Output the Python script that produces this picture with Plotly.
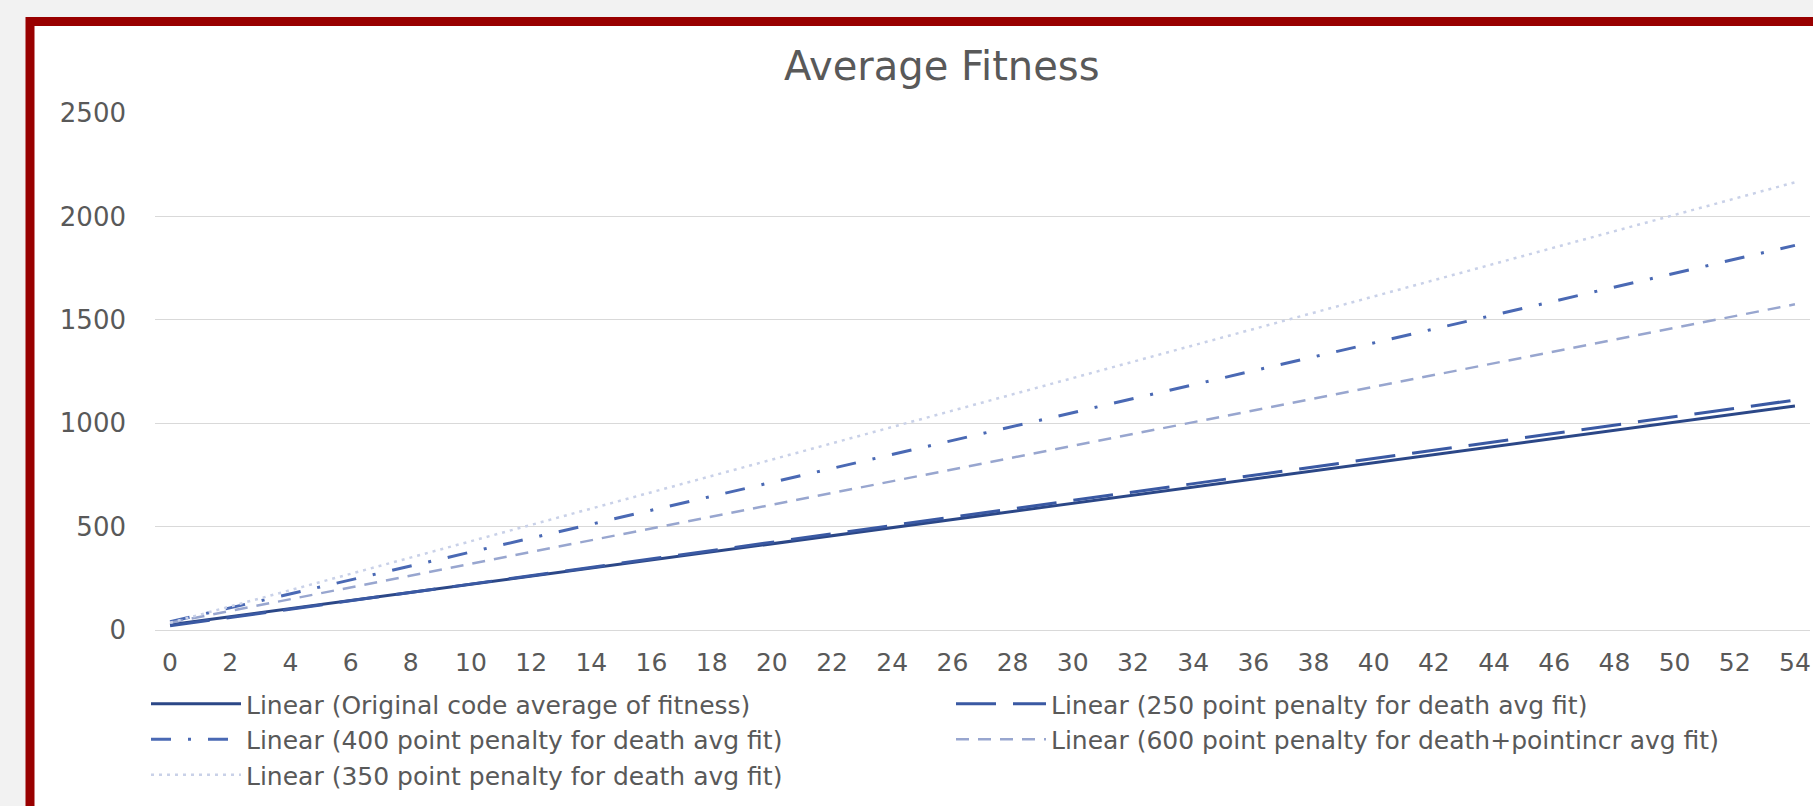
import plotly.graph_objects as go

# Trendline endpoints (first and last generation) for each run
generations = [0, 54]
original_fit = [25, 1083]
penalty250_fit = [20, 1112]
penalty400_fit = [40, 1860]
penalty600_incr_fit = [35, 1575]
penalty350_fit = [35, 2165]

series_names = [
    "Linear (Original code average of fitness)",
    "Linear (250 point penalty for death avg fit)",
    "Linear (400 point penalty for death avg fit)",
    "Linear (600 point penalty for death+pointincr avg fit)",
    "Linear (350 point penalty for death avg fit)",
]

W, H = 1813, 806
L, R, T, B = 155, 3, 113, 176
PW, PH = W - L - R, H - T - B


def px_x(p):
    return (p - L) / PW


def px_y(p):
    return (H - B - p) / PH


FONT = "DejaVu Sans"
TXT = "#595959"

fig = go.Figure()
styles = [
    (original_fit, "#2B4787", "solid", 3),
    (penalty250_fit, "#3A59A3", "40px,17px", 3),
    (penalty400_fit, "#4A69B4", "20px,17px,3px,17px", 3),
    (penalty600_incr_fit, "#98A6CF", "13px,9px", 2.5),
    (penalty350_fit, "#C9D1E8", "3px,5px", 2.5),
]
for (vals, color, dash, width), name in zip(styles, series_names):
    fig.add_trace(go.Scatter(
        x=generations, y=vals, mode="lines", name=name,
        line=dict(color=color, dash=dash, width=width),
    ))

fig.update_layout(
    width=W, height=H,
    margin=dict(l=L, r=R, t=T, b=B, pad=0, autoexpand=False),
    paper_bgcolor="#F2F2F2",
    plot_bgcolor="white",
    showlegend=True,
    legend=dict(
        orientation="h", x=px_x(146), y=px_y(681), xanchor="left", yanchor="top",
        entrywidth=700, entrywidthmode="pixels", itemwidth=90,
        font=dict(family=FONT, size=25, color=TXT),
        bgcolor="rgba(0,0,0,0)", tracegroupgap=0,
    ),
    xaxis=dict(
        range=[-0.5, 54.5], tick0=0, dtick=2, showgrid=False,
        showline=True, linecolor="#D9D9D9", linewidth=1,
        zeroline=False, ticks="",
        tickfont=dict(family=FONT, size=25, color=TXT),
        ticklabelstandoff=10,
    ),
    yaxis=dict(
        range=[0, 2500], tick0=0, dtick=500, showgrid=True,
        gridcolor="#D9D9D9", gridwidth=1, zeroline=False, ticks="",
        tickfont=dict(family=FONT, size=26, color=TXT),
        ticklabelstandoff=28,
    ),
    shapes=[dict(
        type="rect", xref="paper", yref="paper", layer="below",
        x0=px_x(30), x1=px_x(1850), y0=px_y(21.5), y1=px_y(840),
        line=dict(color="#990000", width=9), fillcolor="white",
    )],
    annotations=[dict(
        text="Average Fitness", xref="paper", yref="paper",
        x=px_x(942), y=px_y(66), xanchor="center", yanchor="middle",
        showarrow=False, font=dict(family=FONT, size=40, color=TXT),
    )],
)

fig.write_html("out.html")
